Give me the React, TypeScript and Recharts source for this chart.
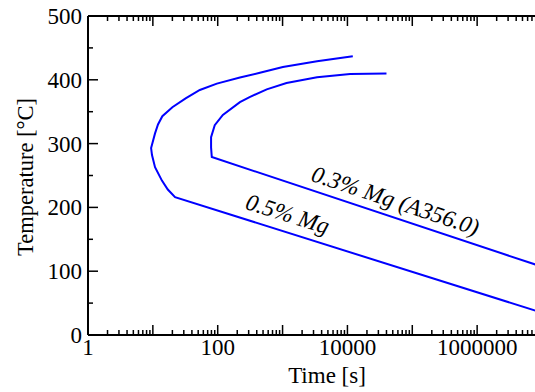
import React from 'react';
import { LineChart, Line, XAxis, YAxis, ReferenceDot } from 'recharts';

// C-curves (time in s, temperature in °C)
const mg05Time = [12100, 3400, 1010, 447, 220, 97, 53, 32, 20, 14, 12, 10.8, 9.4, 9.7, 10.8, 13.8, 17, 22, 10000000];
const mg05Temp = [437, 429, 420, 411, 403.5, 394, 384, 371, 357, 343, 330, 316, 293, 282, 263, 242, 228, 216, 35];

const mg03Time = [40000, 11000, 3400, 1150, 570, 310, 220, 120, 90, 79, 79, 81, 10000000];
const mg03Temp = [410, 409, 404, 395, 385, 373, 365, 345, 329, 310, 294, 279, 107];

const decades = [1, 10, 100, 1000, 10000, 100000, 1000000, 10000000];
const minorSteps = [2, 3, 4, 5, 6, 7, 8, 9];
const xLabelValues = [1, 100, 10000, 1000000];

const yTicks = [0, 50, 100, 150, 200, 250, 300, 350, 400, 450, 500];
const yLabelValues = [0, 100, 200, 300, 400, 500];

const mg05 = mg05Time.map((t, i) => ({ time: t, temp: mg05Temp[i] }));
const mg03 = mg03Time.map((t, i) => ({ time: t, temp: mg03Temp[i] }));

const xTicks: number[] = [];
decades.forEach(d => {
  xTicks.push(d);
  if (d < 10000000) minorSteps.forEach(m => xTicks.push(m * d));
});

const FONT = "'Liberation Serif', 'Times New Roman', Times, serif";
const BLUE = '#0000ff';
const textStyle = { fontFamily: FONT };

const isDecade = (v: number) => {
  const lg = Math.log10(v);
  return Math.abs(lg - Math.round(lg)) < 1e-6;
};

const BottomTick = (props: any) => {
  const { x, y, payload } = props;
  const v = payload.value;
  const len = isDecade(v) ? 10 : 5;
  return (
    <g>
      <line x1={x} x2={x} y1={y} y2={y - len} stroke="#000" strokeWidth={1.5} />
      {xLabelValues.includes(v) && (
        <text x={x} y={y + 19.5} textAnchor="middle" style={textStyle} fontSize={23} fill="#000">
          {String(v)}
        </text>
      )}
    </g>
  );
};

const TopTick = (props: any) => {
  const { x, y, payload } = props;
  const len = isDecade(payload.value) ? 10 : 5;
  return <line x1={x} x2={x} y1={y} y2={y + len} stroke="#000" strokeWidth={1.5} />;
};

const LeftTick = (props: any) => {
  const { x, y, payload } = props;
  const v = payload.value;
  const len = v % 100 === 0 ? 10 : 5;
  return (
    <g>
      <line x1={x} x2={x + len} y1={y} y2={y} stroke="#000" strokeWidth={1.5} />
      {yLabelValues.includes(v) && (
        <text x={x - 6} y={y + 8} textAnchor="end" style={textStyle} fontSize={23} fill="#000">
          {String(v)}
        </text>
      )}
    </g>
  );
};

const RightTick = (props: any) => {
  const { x, y, payload } = props;
  const len = payload.value % 100 === 0 ? 10 : 5;
  return <line x1={x} x2={x - len} y1={y} y2={y} stroke="#000" strokeWidth={1.5} />;
};

const TimeTitle = (props: any) => {
  const { viewBox } = props;
  return (
    <text x={viewBox.x + viewBox.width / 2 + 12} y={viewBox.y + 48} textAnchor="middle" style={textStyle} fontSize={23} fill="#000">
      Time [s]
    </text>
  );
};

const TempTitle = () => (
  <text x={33} y={177} transform="rotate(-90, 33, 177)" textAnchor="middle" style={textStyle} fontSize={22.5} fill="#000">
    Temperature [°C]
  </text>
);

const curveLabel = (text: string, angle: number) => (props: any) => {
  const { cx, cy } = props;
  return (
    <text
      x={cx}
      y={cy}
      transform={`rotate(${angle}, ${cx}, ${cy})`}
      textAnchor="middle"
      dominantBaseline="middle"
      style={textStyle}
      fontStyle="italic"
      fontSize={23.5}
      fill="#000"
    >
      {text}
    </text>
  );
};

export default function App() {
  return (
    <div style={{ position: 'fixed', left: 0, top: 0, width: 535, height: 392, overflow: 'hidden', background: '#fff' }}>
      <LineChart width={560} height={392} margin={{ top: 15, right: 17, bottom: 27, left: 28 }}>
        <XAxis
          xAxisId="bottom"
          dataKey="time"
          type="number"
          scale="log"
          domain={[1, 10000000]}
          allowDataOverflow
          ticks={xTicks}
          interval={0}
          height={30}
          tickSize={0}
          tickMargin={0}
          tickLine={false}
          axisLine={{ stroke: '#000', strokeWidth: 2 }}
          tick={<BottomTick />}
          label={<TimeTitle />}
        />
        <XAxis
          xAxisId="top"
          orientation="top"
          dataKey="time"
          type="number"
          scale="log"
          domain={[1, 10000000]}
          allowDataOverflow
          ticks={xTicks}
          interval={0}
          height={1}
          tickSize={0}
          tickMargin={0}
          tickLine={false}
          axisLine={{ stroke: '#000', strokeWidth: 2 }}
          tick={<TopTick />}
        />
        <YAxis
          yAxisId="left"
          type="number"
          domain={[0, 500]}
          ticks={yTicks}
          interval={0}
          width={60}
          tickSize={0}
          tickMargin={0}
          tickLine={false}
          axisLine={{ stroke: '#000', strokeWidth: 2 }}
          tick={<LeftTick />}
          label={<TempTitle />}
        />
        <YAxis
          yAxisId="right"
          orientation="right"
          type="number"
          domain={[0, 500]}
          ticks={yTicks}
          interval={0}
          width={1}
          tickSize={0}
          tickMargin={0}
          tickLine={false}
          axisLine={{ stroke: '#000', strokeWidth: 2 }}
          tick={<RightTick />}
        />
        <Line
          data={mg05}
          dataKey="temp"
          xAxisId="bottom"
          yAxisId="left"
          type="linear"
          stroke={BLUE}
          strokeWidth={2}
          dot={false}
          isAnimationActive={false}
        />
        <Line
          data={mg03}
          dataKey="temp"
          xAxisId="bottom"
          yAxisId="left"
          type="linear"
          stroke={BLUE}
          strokeWidth={2}
          dot={false}
          isAnimationActive={false}
        />
        <ReferenceDot
          xAxisId="bottom"
          yAxisId="left"
          x={53700}
          y={207}
          r={0}
          ifOverflow="visible"
          shape={curveLabel('0.3% Mg (A356.0)', 18.4)}
        />
        <ReferenceDot
          xAxisId="bottom"
          yAxisId="left"
          x={1165}
          y={186}
          r={0}
          ifOverflow="visible"
          shape={curveLabel('0.5% Mg', 17.4)}
        />
      </LineChart>
    </div>
  );
}
